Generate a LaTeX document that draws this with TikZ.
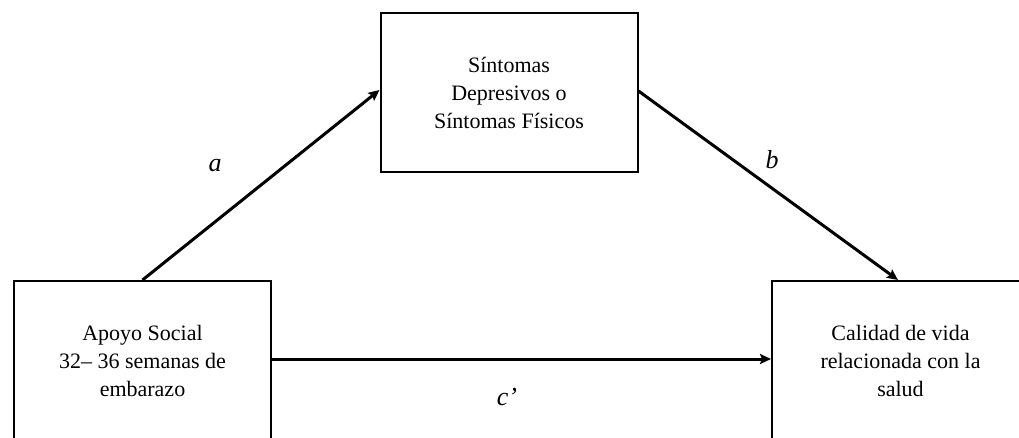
\documentclass[tikz,border=0pt]{standalone}
\usepackage{fontspec}
\setmainfont{Liberation Serif}
\usetikzlibrary{arrows.meta}
\begin{document}
\begin{tikzpicture}[x=1pt,y=-1pt,
  varbox/.style={draw=black, line width=2pt, minimum width=257pt, minimum height=159pt, inner sep=0pt, align=center, font=\fontsize{22}{28}\selectfont},
  path/.style={line width=3pt, -{Stealth[length=11pt,width=10pt,inset=2pt]}},
  lbl/.style={font=\fontsize{26}{30}\selectfont\itshape}]
\useasboundingbox (0,0) rectangle (1019,438);
\clip (0,0) rectangle (1019,438);
\node[varbox] (med) at (509,92.5) {Síntomas\\Depresivos o\\Síntomas Físicos};
\node[varbox] (x) at (142.5,360.5) {Apoyo Social\\32– 36 semanas de\\embarazo};
\node[varbox] (y) at (900.5,360.5) {Calidad de vida\\relacionada con la\\salud};
\draw[path] (x.north) -- ([yshift=2.5pt]med.west);
\draw[path] ([yshift=1.5pt]med.east) -- ([xshift=-2.5pt]y.north);
\draw[path] ([yshift=1.5pt]x.east) -- ([yshift=1.5pt]y.west);
\node[lbl] (la) at (215,166) {a};
\node[lbl] (lb) at (772,160) {b};
\node[lbl] (lc) at (507,397) {c’};
\end{tikzpicture}
\end{document}
